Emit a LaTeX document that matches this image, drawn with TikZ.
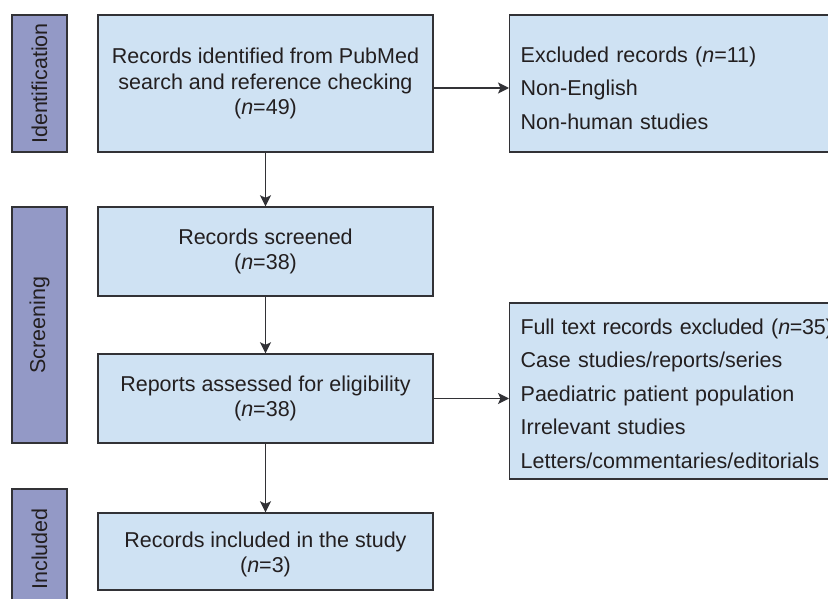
\documentclass[tikz,border=0pt]{standalone}
\usepackage{fontspec}
\setmainfont{Liberation Sans}
\newfontfamily\tightfont{Liberation Sans}[LetterSpace=-1.3]
\usetikzlibrary{arrows.meta}
\definecolor{boxfill}{RGB}{207,226,243}
\definecolor{barfill}{RGB}{147,153,198}
\definecolor{edgecol}{RGB}{50,50,54}
\definecolor{txtcol}{RGB}{35,31,32}
\begin{document}
\begin{tikzpicture}[x=1pt,y=-1pt,
  every node/.style={text=txtcol},
  mainbox/.style={draw=edgecol, line width=1.4pt, fill=boxfill, minimum width=335pt,
    inner sep=0pt, align=center, font=\fontsize{21.5}{25.5}\selectfont},
  sidebox/.style={draw=edgecol, line width=1.4pt, fill=boxfill, minimum width=345pt,
    inner sep=0pt, inner xsep=11pt, text width=323pt, align=left,
    font=\fontsize{21.5}{33.5}\selectfont},
  phasebar/.style={draw=edgecol, line width=1.4pt, fill=barfill, rotate=90,
    minimum height=55pt, inner sep=0pt, font=\fontsize{21.5}{25.5}\selectfont},
  arrowline/.style={draw=edgecol, line width=1.4pt,
    -{Stealth[length=11pt,width=11pt,inset=2.5pt]}}]
\useasboundingbox (0,0) rectangle (828,599);
\clip (0,0) rectangle (828,599);
\fill[white] (0,0) rectangle (828,599);

% phase bars
\node[phasebar, minimum width=137pt] (pid) at (39.5,83.5) {Identification};
\node[phasebar, minimum width=236pt] (pscr) at (39.5,325) {Screening};
\node[phasebar, minimum width=120pt] (pinc) at (39.5,549) {Included};

% main boxes
\node[mainbox, minimum height=137pt] (b1) at (265.5,83.5)
  {Records identified from PubMed\\search and reference checking\\(\textit{n}=49)};
\node[mainbox, minimum height=89pt] (b2) at (265.5,251.5)
  {Records screened\\(\textit{n}=38)};
\node[mainbox, minimum height=89pt] (b3) at (265.5,398.5)
  {Reports assessed for eligibility\\(\textit{n}=38)};
\node[mainbox, minimum height=77pt] (b4) at (265.5,551.5)
  {\rule{0pt}{21.5pt}Records included in the study\\(\textit{n}=3)};

% side boxes
\node[sidebox, minimum height=137pt, anchor=west] (s1) at (509,83.5)
  {\rule{0pt}{25pt}Excluded records (\textit{n}=11)\\Non-English\\Non-human studies};
\node[sidebox, minimum height=176pt, anchor=west] (s2) at (509,391)
  {\rule{0pt}{20.5pt}{\tightfont Full text records excluded (\textit{n}=35)}\\Case studies/reports/series\\Paediatric patient population\\Irrelevant studies\\Letters/commentaries/editorials};

% connectors
\draw[arrowline] (b1) -- (b2);
\draw[arrowline] (b2) -- (b3);
\draw[arrowline] (b3) -- (b4);
\draw[arrowline] ([yshift=-4.5pt]b1.east) -- ([yshift=-4.5pt]s1.west);
\draw[arrowline] (b3.east) -- (s2.west |- b3.east);
\end{tikzpicture}
\end{document}
